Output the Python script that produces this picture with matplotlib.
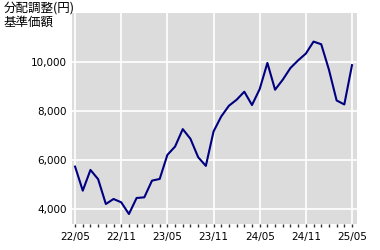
import matplotlib
matplotlib.use("Agg")
import matplotlib.pyplot as plt
import numpy as np

# monthly NAV, 22/05 .. 25/05
values = [5727, 4747, 5592, 5212, 4204, 4408, 4273, 3796, 4449, 4476,
          5156, 5224, 6204, 6543, 7253, 6857, 6110, 5755, 7156, 7768,
          8204, 8449, 8776, 8233, 8884, 9947, 8857, 9265, 9742, 10053,
          10327, 10816, 10707, 9674, 8420, 8257, 9857]
xlabels = ["22/05", "22/11", "23/05", "23/11", "24/05", "24/11", "25/05"]
yticks = [4000, 6000, 8000, 10000]

plt.rcParams['font.family'] = ['Noto Sans CJK JP', 'DejaVu Sans']

fig = plt.figure(figsize=(3.8, 2.5), dpi=100)
ax = fig.add_axes([72/380, 26/250, 285/380, 211/250])
ax.set_facecolor('#DCDCDC')

x = np.arange(len(values))
ax.plot(x, values, color='#000080', lw=1.5, zorder=3)

ax.set_xlim(-0.4, 36.65)
ax.set_ylim(3390, 11980)

ax.set_xticks(np.arange(0, 37, 6))
ax.set_xticklabels(xlabels, fontsize=7.5, family='DejaVu Sans')
ax.set_xticks(np.arange(0, 37, 1), minor=True)
ax.set_yticks(yticks)
ax.set_yticklabels([f"{v:,}" for v in yticks], fontsize=7.5, family='DejaVu Sans')

ax.grid(True, color='white', lw=1.2)
ax.set_axisbelow(True)
ax.tick_params(axis='x', which='major', length=2, width=1, color='#333333', pad=4)
ax.tick_params(axis='x', which='minor', length=2, width=1, color='#333333')
ax.tick_params(axis='y', length=0, pad=4)
for s in ax.spines.values():
    s.set_visible(False)

fig.text(4/380, 1 - 2/250, "分配調整(円)\n基準価額", fontsize=9, va='top', ha='left',
         linespacing=1.05)

fig.savefig("out.png", dpi=100)
